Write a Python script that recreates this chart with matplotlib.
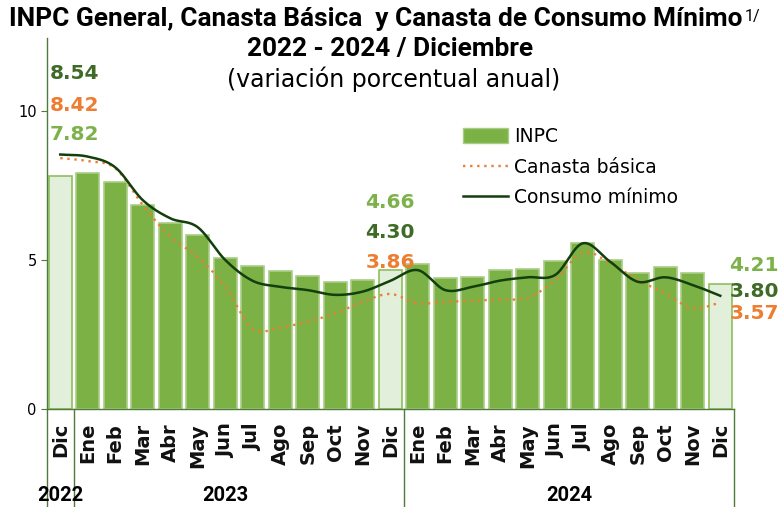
import numpy as np
import matplotlib
matplotlib.use("Agg")
from matplotlib import pyplot as plt
from matplotlib.patches import Patch
from matplotlib.lines import Line2D

months = ["Dic", "Ene", "Feb", "Mar", "Abr", "May", "Jun", "Jul", "Ago", "Sep",
          "Oct", "Nov", "Dic", "Ene", "Feb", "Mar", "Abr", "May", "Jun", "Jul",
          "Ago", "Sep", "Oct", "Nov", "Dic"]
years = ["2022", "2023", "2024"]

inpc = [7.82, 7.91, 7.62, 6.85, 6.25, 5.84, 5.06, 4.79, 4.64, 4.45, 4.26, 4.32,
        4.66, 4.88, 4.40, 4.42, 4.65, 4.69, 4.98, 5.57, 4.99, 4.58, 4.76, 4.55, 4.21]
canasta = [8.42, 8.32, 8.08, 6.85, 5.78, 5.11, 4.10, 2.69, 2.74, 2.93, 3.21, 3.60,
           3.86, 3.55, 3.60, 3.63, 3.68, 3.73, 4.33, 5.26, 4.89, 4.33, 3.88, 3.38, 3.57]
consumo = [8.54, 8.47, 8.11, 7.01, 6.40, 6.10, 5.00, 4.30, 4.10, 3.99, 3.83, 3.94,
           4.30, 4.66, 3.99, 4.10, 4.31, 4.42, 4.50, 5.56, 4.94, 4.27, 4.42, 4.16, 3.80]

GREEN = "#7CB146"
LIGHT = "#E2EFDA"
DARK = "#133F0C"
DARKLBL = "#3F6B26"
ORANGE = "#ED7D31"
AXCOL = "#4E7A3A"

TITLE_FONT = ["Roboto", "DejaVu Sans"]
BODY_FONT = ["DejaVu Sans"]
LABEL_FONT = ["DejaVu Sans"]


def smooth(y, n=20):
    # Catmull-Rom spline, like Excel's smoothed line
    x = np.arange(len(y), dtype=float)
    y = np.asarray(y, dtype=float)
    px = np.concatenate([[2 * x[0] - x[1]], x, [2 * x[-1] - x[-2]]])
    py = np.concatenate([[2 * y[0] - y[1]], y, [2 * y[-1] - y[-2]]])
    xs, ys = [], []
    t = np.linspace(0, 1, n, endpoint=False)
    for i in range(1, len(px) - 2):
        for p, out in ((px, xs), (py, ys)):
            p0, p1, p2, p3 = p[i - 1], p[i], p[i + 1], p[i + 2]
            out.extend(0.5 * (2 * p1 + (-p0 + p2) * t
                              + (2 * p0 - 5 * p1 + 4 * p2 - p3) * t ** 2
                              + (-p0 + 3 * p1 - 3 * p2 + p3) * t ** 3))
    xs.append(x[-1])
    ys.append(y[-1])
    return np.array(xs), np.array(ys)


fig = plt.figure(figsize=(7.8, 5.07), dpi=100)
ax = fig.add_axes([46.5 / 780, 1 - 409 / 507, 687.5 / 780, 371 / 507])

x = np.arange(len(months))
dec = [0, 12, 24]
fills = [LIGHT if i in dec else GREEN for i in x]
edges = ["#8DBF5E" if i in dec else "#A9CD86" for i in x]
ax.bar(x, inpc, width=0.84, color=fills, edgecolor=edges, linewidth=1.2, zorder=2)

cx, cy = smooth(canasta)
ax.plot(cx, cy, color=ORANGE, lw=1.7, ls=(0, (1, 2)), zorder=3)
mx, my = smooth(consumo)
ax.plot(mx, my, color=DARK, lw=1.8, zorder=4)

ax.set_xlim(-0.5, len(months) - 0.5)
ax.set_ylim(0, 12.45)
ax.set_yticks([0, 5, 10])
ax.tick_params(axis="y", length=4, color=AXCOL, labelsize=10.5, pad=3)
ax.set_xticks(x)
ax.set_xticklabels(months, rotation=90, fontsize=14, fontweight="bold",
                   color="#111111", family=LABEL_FONT)
ax.tick_params(axis="x", length=0, pad=10)
for s in ["top", "right"]:
    ax.spines[s].set_visible(False)
for s in ["left", "bottom"]:
    ax.spines[s].set_color(AXCOL)
    ax.spines[s].set_linewidth(1.0)

# category group separators
for xs in [-0.5, 0.5, 12.5, 24.5]:
    ax.plot([xs, xs], [0, -0.27], transform=ax.get_xaxis_transform(),
            color=AXCOL, lw=1.0, clip_on=False)
for xc, yr in zip([0, 6, 18.5], years):
    ax.text(xc, -0.232, yr, transform=ax.get_xaxis_transform(), ha="center",
            va="center", fontsize=14.5, fontweight="bold", family=TITLE_FONT)

# value labels
lab = dict(fontsize=14.5, fontweight="bold", family=LABEL_FONT)
ax.text(-0.38, 11.25, f"{consumo[0]:.2f}", color=DARKLBL, ha="left", va="center", **lab)
ax.text(-0.38, 10.17, f"{canasta[0]:.2f}", color=ORANGE, ha="left", va="center", **lab)
ax.text(-0.38, 9.20, f"{inpc[0]:.2f}", color="#7DB24A", ha="left", va="center", **lab)
ax.text(12, 6.93, f"{inpc[12]:.2f}", color="#7DB24A", ha="center", va="center", **lab)
ax.text(12, 5.92, f"{consumo[12]:.2f}", color=DARKLBL, ha="center", va="center", **lab)
ax.text(12, 4.91, f"{canasta[12]:.2f}", color=ORANGE, ha="center", va="center", **lab)
ax.text(24.33, 4.80, f"{inpc[24]:.2f}", color="#7DB24A", ha="left", va="center", **lab)
ax.text(24.33, 3.93, f"{consumo[24]:.2f}", color=DARKLBL, ha="left", va="center", **lab)
ax.text(24.33, 3.20, f"{canasta[24]:.2f}", color=ORANGE, ha="left", va="center", **lab)

handles = [Patch(facecolor=GREEN, edgecolor="#A9CD86"),
           Line2D([], [], color=ORANGE, lw=1.7, ls=(0, (1, 2))),
           Line2D([], [], color=DARK, lw=1.8)]
ax.legend(handles, ["INPC", "Canasta básica", "Consumo mínimo"],
          loc="upper left", bbox_to_anchor=(463 / 780, 1 - 127 / 507),
          bbox_transform=fig.transFigure, frameon=False, fontsize=13.5,
          handlelength=2.4, handleheight=0.8, handletextpad=0.3, labelspacing=0.62,
          borderaxespad=0, borderpad=0)

# title
t1 = fig.text(0.482, 1 - 19 / 507, "INPC General, Canasta Básica  y Canasta de Consumo Mínimo",
              ha="center", va="center", fontsize=18.9, fontweight="bold", family=TITLE_FONT)
fig.text(0.5, 1 - 49 / 507, "2022 - 2024 / Diciembre", ha="center", va="center",
         fontsize=18.9, fontweight="bold", family=TITLE_FONT)
fig.text(0.505, 1 - 79 / 507, "(variación porcentual anual)", ha="center", va="center",
         fontsize=17, family=BODY_FONT)
fig.canvas.draw()
bb = t1.get_window_extent()
fig.text(bb.x1 / 780 + 0.002, bb.y1 / 507 - 0.004, "1/", ha="left", va="top",
         fontsize=11.5, family=TITLE_FONT)

fig.savefig("out.png", dpi=100)
